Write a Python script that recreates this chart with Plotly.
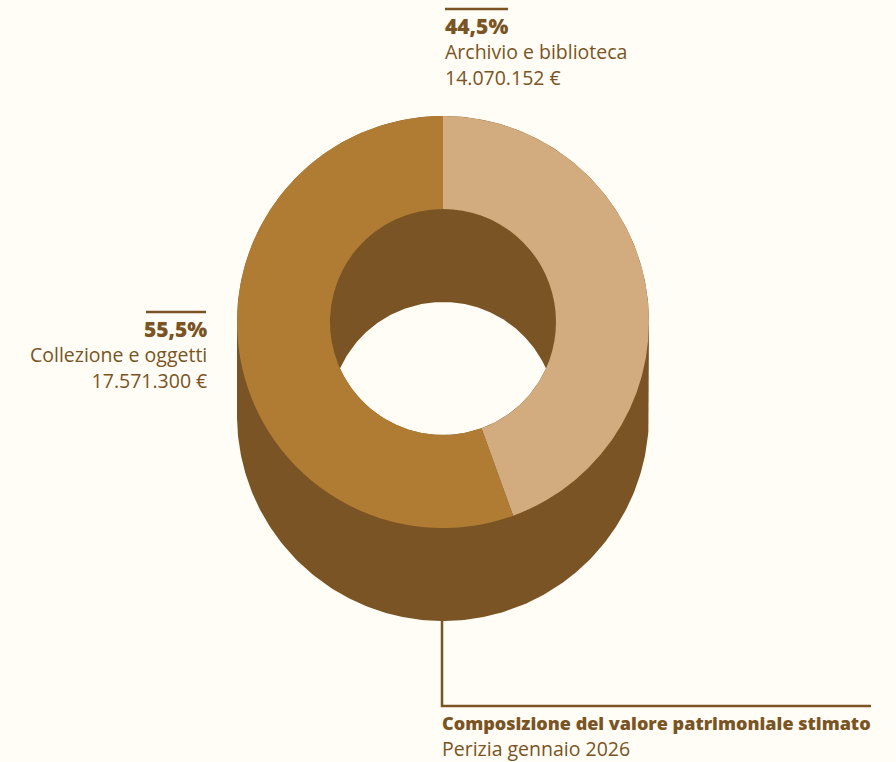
import numpy as np
import plotly.graph_objects as go

# ---- data ----
categories = ["Archivio e biblioteca", "Collezione e oggetti"]
values = [14070152, 17571300]
slice_colors = ["#D2AB7F", "#B07C34"]
chart_title = "Composizione del valore patrimoniale stimato"
chart_subtitle = "Perizia gennaio 2026"

# ---- layout / style ----
W, H = 896, 762
BG = "#FFFDF5"
DARK = "#7A5424"
TEXT = "#7A5424"
FONT = "Open Sans"
FS = 19.5
CX, CY, R, HOLE_R, DEPTH = 443, 322, 206, 113, 93

total = sum(values)
def pct(v):
    return f"{v / total * 100:.1f}".replace(".", ",") + "%"
def eur(v):
    return f"{v:,}".replace(",", ".") + " €"

fig = go.Figure()

# extruded body (side of the ring)
a_up = np.linspace(np.pi, 0, 200)
a_dn = np.linspace(0, -np.pi, 200)
bx = np.concatenate([CX + R * np.cos(a_up), CX + R * np.cos(a_dn)])
by = np.concatenate([CY - R * np.sin(a_up), CY + DEPTH - R * np.sin(a_dn)])
fig.add_trace(go.Scatter(x=bx, y=by, fill="toself", fillcolor=DARK, mode="lines",
                         line=dict(width=0, color=DARK), hoverinfo="skip", showlegend=False))

# see-through part of the hole (intersection of top and bottom hole)
a0 = -np.arcsin(DEPTH / (2 * HOLE_R))
a1 = np.arcsin(DEPTH / (2 * HOLE_R))
t1 = np.linspace(a0, -np.pi - a0, 150)
t2 = np.linspace(np.pi - a1, a1, 150)
lx = np.concatenate([CX + HOLE_R * np.cos(t1), CX + HOLE_R * np.cos(t2)])
ly = np.concatenate([CY - HOLE_R * np.sin(t1), CY + DEPTH - HOLE_R * np.sin(t2)])
fig.add_trace(go.Scatter(x=lx, y=ly, fill="toself", fillcolor=BG, mode="lines",
                         line=dict(width=0, color=BG), hoverinfo="skip", showlegend=False))

# top face: the donut
fig.add_trace(go.Pie(
    labels=categories, values=values, sort=False, direction="clockwise", rotation=0,
    hole=HOLE_R / R, marker=dict(colors=slice_colors, line=dict(width=0)),
    textinfo="none", hoverinfo="label+value+percent", showlegend=False,
    domain=dict(x=[(CX - R) / W, (CX + R) / W], y=[(H - CY - R) / H, (H - CY + R) / H]),
))

def group(x, y, i, anchor):
    text = (f"<span style='font-weight:800;font-size:21px'>{pct(values[i])}</span><br>"
            f"{categories[i]}<br>{eur(values[i])}")
    fig.add_annotation(x=x, y=y, xref="x", yref="y", text=text, align=anchor,
                       showarrow=False, xanchor=anchor, yanchor="middle",
                       font=dict(family=FONT, size=FS, color=TEXT))

def label(x, y, text, anchor, weight=400, size=FS):
    fig.add_annotation(x=x, y=y, xref="x", yref="y", text=text,
                       showarrow=False, xanchor=anchor, yanchor="middle",
                       font=dict(family=FONT, size=size, color=TEXT, weight=weight))

group(443, 51, 0, "left")    # Archivio (top right)
group(209, 354, 1, "right")  # Collezione (left)
label(440, 723, chart_title, "left", weight=800, size=18)
label(440, 748, chart_subtitle, "left")

line = dict(color=DARK, width=2.5)
fig.add_shape(type="line", xref="x", yref="y", x0=445, x1=508, y0=9, y1=9, line=line)
fig.add_shape(type="line", xref="x", yref="y", x0=146, x1=206, y0=312, y1=312, line=line)
fig.add_shape(type="path", xref="x", yref="y",
              path=f"M {CX - 1} {CY + R + DEPTH - 2} L {CX - 1} 706 L 871 706", line=line)

fig.update_layout(
    width=W, height=H, margin=dict(l=0, r=0, t=0, b=0),
    paper_bgcolor=BG, plot_bgcolor=BG,
    xaxis=dict(range=[0, W], visible=False, fixedrange=True),
    yaxis=dict(range=[H, 0], visible=False, fixedrange=True),
    hovermode="closest",
)
fig.write_html("out.html", config={"displayModeBar": False})
